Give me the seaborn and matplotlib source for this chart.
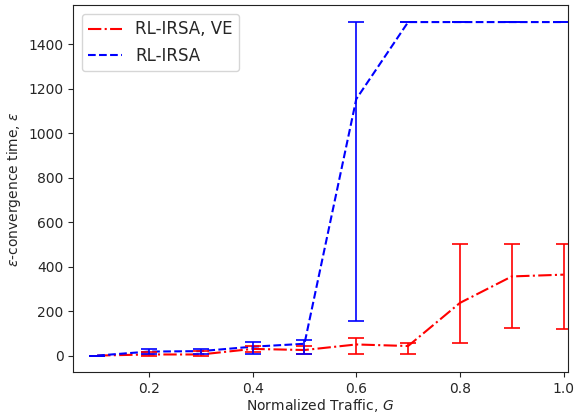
import numpy as np
import pandas as pd
import matplotlib
matplotlib.use("Agg")
import matplotlib.pyplot as plt
import seaborn as sns

# traffic values
G = [0.1, 0.2, 0.3, 0.4, 0.5, 0.6, 0.7, 0.8, 0.9, 1.0]

# RL-IRSA, VE (red)
ve_mean = [0, 5, 5, 30, 25, 50, 43, 237, 356, 364]
ve_low = [0, 0, 0, 18, 9, 9, 6, 58, 122, 118]
ve_high = [0, 15, 20, 43, 43, 80, 58, 500, 500, 500]

# RL-IRSA (blue)
irsa_mean = [0, 18, 20, 40, 53, 1154, 1500, 1500, 1500, 1500]
irsa_low = [0, 9, 5, 9, 9, 157, 1500, 1500, 1500, 1500]
irsa_high = [0, 28, 28, 63, 70, 1500, 1500, 1500, 1500, 1500]

df = pd.DataFrame({
    "G": G * 2,
    "eps": ve_mean + irsa_mean,
    "method": ["RL-IRSA, VE"] * len(G) + ["RL-IRSA"] * len(G),
})

sns.set_style("ticks")
fig = plt.figure(figsize=(5.77, 4.15), dpi=100)
ax = fig.add_axes([0.127, 0.103, 0.857, 0.884])

sns.lineplot(data=df, x="G", y="eps", hue="method", style="method",
             palette={"RL-IRSA, VE": "red", "RL-IRSA": "blue"},
             dashes={"RL-IRSA, VE": (6.4, 1.6, 1, 1.6), "RL-IRSA": (3.7, 1.6)},
             linewidth=1.5, ax=ax)

ve_err = [np.array(ve_mean) - np.array(ve_low), np.array(ve_high) - np.array(ve_mean)]
irsa_err = [np.array(irsa_mean) - np.array(irsa_low), np.array(irsa_high) - np.array(irsa_mean)]
ax.errorbar(G, ve_mean, yerr=ve_err, fmt="none", ecolor="red", capsize=6, elinewidth=1.2, capthick=1.2)
ax.errorbar(G, irsa_mean, yerr=irsa_err, fmt="none", ecolor="blue", capsize=6, elinewidth=1.2, capthick=1.2)

ax.set_xlim(0.054, 1.008)
ax.set_ylim(-75, 1575)
ax.set_xticks([0.2, 0.4, 0.6, 0.8, 1.0])
ax.set_xlabel("Normalized Traffic, $G$", fontsize=10, labelpad=1)
ax.set_ylabel(r"$\epsilon$-convergence time, $\epsilon$", fontsize=10)
ax.tick_params(labelsize=10, length=3.5)
for s in ax.spines.values():
    s.set_visible(True)
    s.set_color("#222222")
ax.legend(loc="upper left", fontsize=12, handlelength=2.0)

fig.savefig("out.png", dpi=100)
